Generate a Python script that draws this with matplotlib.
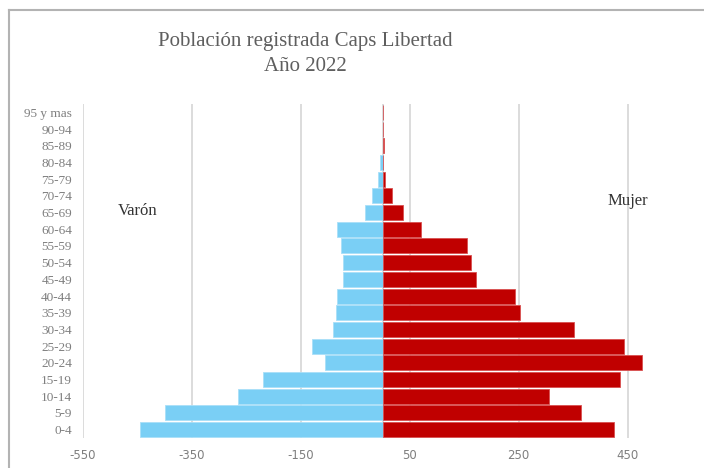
import matplotlib
matplotlib.use("Agg")
import matplotlib.pyplot as plt
from matplotlib.lines import Line2D

age_groups = ["0-4", "5-9", "10-14", "15-19", "20-24", "25-29", "30-34", "35-39",
              "40-44", "45-49", "50-54", "55-59", "60-64", "65-69", "70-74", "75-79",
              "80-84", "85-89", "90-94", "95 y mas"]
varon = [445, 399, 266, 219, 105, 129, 90, 85, 83, 73, 73, 76, 83, 32, 20, 8, 4, 0, 0, 0]
mujer = [425, 365, 305, 436, 477, 443, 351, 252, 243, 171, 162, 156, 70, 37, 18, 5, 1, 3, 0, 0]
x_ticks = [-550, -350, -150, 50, 250, 450]

title = "Población registrada Caps Libertad\nAño 2022"

fig = plt.figure(figsize=(7.04, 4.68), dpi=100)
ax = fig.add_axes([83/704, 1-438/468, (682-83)/704, (438-104)/468])

y = list(range(len(age_groups)))
ax.barh(y, [-v for v in varon], height=0.9, color="#7ACFF5", edgecolor="#A9DFF8",
        linewidth=0.6, zorder=2)
ax.barh(y, mujer, height=0.9, color="#C00000", edgecolor="#D95050",
        linewidth=0.6, zorder=2)

ax.set_xlim(-550, 550)
ax.set_ylim(-0.5, len(age_groups) - 0.5)
ax.set_xticks(x_ticks)
ax.set_xticklabels([str(t) for t in x_ticks], fontsize=8.5, color="#7f7f7f",
                   family="DejaVu Sans")
ax.set_yticks(y)
ax.set_yticklabels(age_groups, fontsize=9.5, color="#7f7f7f", family="Liberation Serif")
ax.tick_params(axis="both", length=0)
ax.tick_params(axis="x", pad=8)
ax.tick_params(axis="y", pad=8)
for s in ax.spines.values():
    s.set_visible(False)
ax.xaxis.grid(True, color="#d9d9d9", linewidth=1.3, zorder=0)
ax.set_axisbelow(True)
ax.axvline(0, color="#d9d9d9", linewidth=1.3, zorder=1)

ax.text(-450, 13.1, "Varón", fontsize=12, color="#333333", family="Liberation Serif",
        ha="center", va="center")
ax.text(450, 13.7, "Mujer", fontsize=12, color="#333333", family="Liberation Serif",
        ha="center", va="center")

fig.text(305/704, 1-54/468, title, ha="center", va="center", fontsize=15,
         color="#5f5f5f", family="Liberation Serif", linespacing=1.45)

# chart frame (top and left edges visible in the crop)
fig.add_artist(Line2D([9/704, 9/704], [0, 1-10/468], transform=fig.transFigure,
                      color="#b3b3b3", linewidth=1.5))
fig.add_artist(Line2D([9/704, 1], [1-10/468, 1-10/468], transform=fig.transFigure,
                      color="#b3b3b3", linewidth=1.5))

fig.savefig("out.png", dpi=100, facecolor="white")
